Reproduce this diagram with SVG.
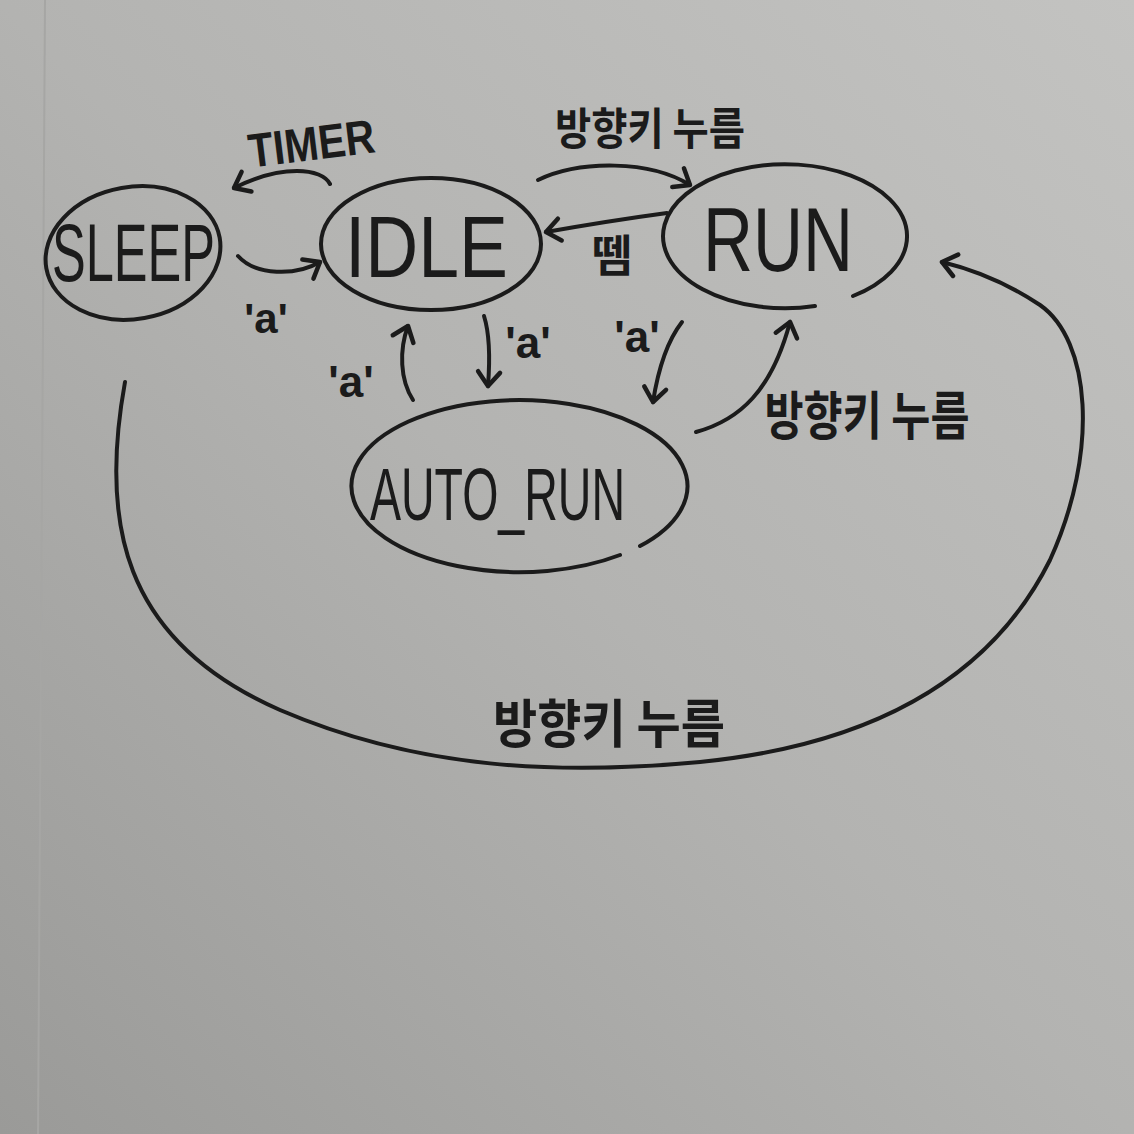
<svg xmlns="http://www.w3.org/2000/svg" width="1134" height="1134" viewBox="0 0 1134 1134">
  <defs>
    <linearGradient id="paper" x1="1" y1="0" x2="0" y2="1">
      <stop offset="0" stop-color="#c3c3c1"/>
      <stop offset="0.5" stop-color="#b3b3b1"/>
      <stop offset="1" stop-color="#9a9a98"/>
    </linearGradient>
    <marker id="head" markerUnits="userSpaceOnUse" markerWidth="30" markerHeight="30" viewBox="0 0 30 30" refX="22" refY="15" orient="auto">
      <path d="M8,4 L22,15 L8,26" fill="none" stroke="#1b1b1b" stroke-width="4.5" stroke-linecap="round" stroke-linejoin="round"/>
    </marker>
    <style>
      .ink { fill: none; stroke: #1b1b1b; stroke-width: 4; stroke-linecap: round; stroke-linejoin: round; }
      .arrow { fill: none; stroke: #1b1b1b; stroke-width: 4; stroke-linecap: round; marker-end: url(#head); }
      .state { font-family: "Liberation Sans", "DejaVu Sans", sans-serif; fill: #1b1b1b; text-anchor: start; }
      .lbl { font-family: "Liberation Sans", "DejaVu Sans", sans-serif; fill: #1b1b1b; font-weight: bold; }
      .ko { font-family: "Noto Sans CJK KR", "Noto Sans CJK SC", sans-serif; fill: #1b1b1b; font-weight: bold; }
    </style>
  </defs>

  <rect x="0" y="0" width="1134" height="1134" fill="url(#paper)"/>
  <line x1="45" y1="0" x2="38" y2="1134" stroke="#a6a6a4" stroke-width="2"/>

  <g id="connectors">
    <!-- IDLE -> SLEEP : TIMER -->
    <path class="arrow" d="M 330 184 C 322 168, 282 164, 234 188"/>
    <!-- SLEEP -> IDLE : 'a' -->
    <path class="arrow" d="M 238 256 C 256 276, 296 276, 320 262"/>
    <!-- IDLE -> RUN : 방향키 누름 -->
    <path class="arrow" d="M 538 180 C 580 160, 650 160, 690 185"/>
    <!-- RUN -> IDLE : 뗌 -->
    <path class="arrow" d="M 667 213 C 630 218, 580 226, 546 232"/>
    <!-- AUTO_RUN -> IDLE : 'a' -->
    <path class="arrow" d="M 413 400 C 400 380, 399 350, 408 326"/>
    <!-- IDLE -> AUTO_RUN : 'a' -->
    <path class="arrow" d="M 484 316 C 490 335, 490 360, 488 386"/>
    <!-- RUN -> AUTO_RUN : 'a' -->
    <path class="arrow" d="M 682 322 C 668 340, 658 370, 653 402"/>
    <!-- AUTO_RUN -> RUN : 방향키 누름 -->
    <path class="arrow" d="M 696 432 C 740 420, 772 390, 790 322"/>
    <!-- SLEEP -> RUN : 방향키 누름 -->
    <path class="arrow" d="M 125 382 C 100 520, 120 640, 280 710 C 420 770, 560 775, 700 762 C 870 745, 990 680, 1050 560 C 1100 450, 1090 340, 1040 305 C 1010 285, 975 270, 942 262"/>

    <text class="lbl" x="312" y="160" font-size="48" text-anchor="middle" textLength="127" lengthAdjust="spacingAndGlyphs" transform="rotate(-7 312 148)">TIMER</text>
    <text class="lbl" x="266" y="333" font-size="42" text-anchor="middle">'a'</text>
    <text class="ko" x="650" y="145" font-size="44" text-anchor="middle" textLength="190" lengthAdjust="spacingAndGlyphs">방향키 누름</text>
    <text class="ko" x="612" y="272" font-size="44" text-anchor="middle">뗌</text>
    <text class="lbl" x="351" y="397" font-size="44" text-anchor="middle">'a'</text>
    <text class="lbl" x="528" y="358" font-size="44" text-anchor="middle">'a'</text>
    <text class="lbl" x="637" y="352" font-size="44" text-anchor="middle">'a'</text>
    <text class="ko" x="867" y="435" font-size="52" text-anchor="middle" textLength="205" lengthAdjust="spacingAndGlyphs">방향키 누름</text>
    <text class="ko" x="609" y="743" font-size="52" text-anchor="middle" textLength="232" lengthAdjust="spacingAndGlyphs">방향키 누름</text>
  </g>

  <g id="node-sleep">
    <ellipse class="ink" cx="133" cy="253" rx="88" ry="66" transform="rotate(-10 133 253)"/>
    <text class="state" x="52" y="281" font-size="82" textLength="163" lengthAdjust="spacingAndGlyphs">SLEEP</text>
  </g>

  <g id="node-idle">
    <ellipse class="ink" cx="431" cy="244" rx="110" ry="66"/>
    <text class="state" x="345" y="277" font-size="88" textLength="163" lengthAdjust="spacingAndGlyphs">IDLE</text>
  </g>

  <g id="node-run">
    <path class="ink" d="M 815 306 A 122 72 0 1 1 853 296"/>
    <text class="state" x="703" y="271" font-size="90" textLength="150" lengthAdjust="spacingAndGlyphs">RUN</text>
  </g>

  <g id="node-auto-run">
    <path class="ink" d="M 620 555 A 168 86 0 1 1 640 546"/>
    <text class="state" x="370" y="520" font-size="74" textLength="255" lengthAdjust="spacingAndGlyphs">AUTO_RUN</text>
  </g>
</svg>
